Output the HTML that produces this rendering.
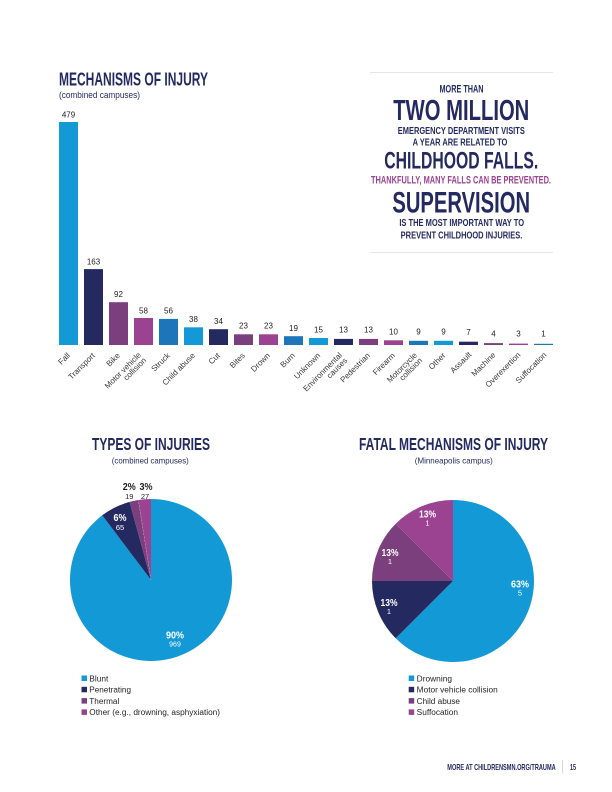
<!DOCTYPE html>
<html><head><meta charset="utf-8"><style>
html,body{margin:0;padding:0;background:#fff;}
svg{display:block;}
text{font-family:"Liberation Sans",sans-serif;}
.c{font-weight:bold;fill:#242A60;}
.lab{font-size:8px;fill:#3a3a3a;}
.val{font-size:8px;fill:#222;}
.leg{font-size:8px;fill:#231f20;}
</style></head><body>
<svg width="612" height="792" viewBox="0 0 612 792" xmlns="http://www.w3.org/2000/svg">
<rect width="612" height="792" fill="#fff"/>

<!-- Main title -->
<text class="c" x="59" y="85.7" font-size="18.3" textLength="149" lengthAdjust="spacingAndGlyphs">MECHANISMS OF INJURY</text>
<text x="59" y="98" font-size="9" fill="#242A60" textLength="81" lengthAdjust="spacingAndGlyphs">(combined campuses)</text>

<!-- Callout -->
<line x1="370" y1="72.5" x2="553" y2="72.5" stroke="#e6e6e6" stroke-width="1"/>
<line x1="370" y1="252.5" x2="553" y2="252.5" stroke="#e6e6e6" stroke-width="1"/>
<g text-anchor="middle">
<text class="c" x="461.5" y="92.7" font-size="10.6" textLength="44" lengthAdjust="spacingAndGlyphs">MORE THAN</text>
<text class="c" x="461.3" y="120" font-size="28.5" textLength="136" lengthAdjust="spacingAndGlyphs">TWO MILLION</text>
<text class="c" x="461.3" y="134" font-size="10.2" textLength="127" lengthAdjust="spacingAndGlyphs">EMERGENCY DEPARTMENT VISITS</text>
<text class="c" x="460" y="145.3" font-size="10.2" textLength="94.7" lengthAdjust="spacingAndGlyphs">A YEAR ARE RELATED TO</text>
<text class="c" x="461.3" y="168.3" font-size="24.3" textLength="154" lengthAdjust="spacingAndGlyphs">CHILDHOOD FALLS.</text>
<text x="461" y="183.3" font-size="10.6" font-weight="bold" fill="#9B4391" textLength="180" lengthAdjust="spacingAndGlyphs">THANKFULLY, MANY FALLS CAN BE PREVENTED.</text>
<text class="c" x="461.2" y="212.3" font-size="29.3" textLength="137.7" lengthAdjust="spacingAndGlyphs">SUPERVISION</text>
<text class="c" x="461.7" y="226" font-size="10.2" textLength="124.7" lengthAdjust="spacingAndGlyphs">IS THE MOST IMPORTANT WAY TO</text>
<text class="c" x="461.5" y="238.3" font-size="10.2" textLength="121.7" lengthAdjust="spacingAndGlyphs">PREVENT CHILDHOOD INJURIES.</text>
</g>

<!-- Bars -->
<g>
<rect x="59" y="122" width="19" height="223" fill="#1399D6"/>
<rect x="84" y="269.1" width="19" height="75.9" fill="#242A60"/>
<rect x="109" y="302.2" width="19" height="42.8" fill="#7B3F7E"/>
<rect x="134" y="318" width="19" height="27" fill="#9B4391"/>
<rect x="159" y="318.9" width="19" height="26.1" fill="#1C76B9"/>
<rect x="184" y="327.3" width="19" height="17.7" fill="#1399D6"/>
<rect x="209" y="329.2" width="19" height="15.8" fill="#242A60"/>
<rect x="234" y="334.3" width="19" height="10.7" fill="#7B3F7E"/>
<rect x="259" y="334.3" width="19" height="10.7" fill="#9B4391"/>
<rect x="284" y="336.2" width="19" height="8.8" fill="#1C76B9"/>
<rect x="309" y="338" width="19" height="7" fill="#1399D6"/>
<rect x="334" y="338.9" width="19" height="6.1" fill="#242A60"/>
<rect x="359" y="338.9" width="19" height="6.1" fill="#7B3F7E"/>
<rect x="384" y="340.3" width="19" height="4.7" fill="#9B4391"/>
<rect x="409" y="340.8" width="19" height="4.2" fill="#1C76B9"/>
<rect x="434" y="340.8" width="19" height="4.2" fill="#1399D6"/>
<rect x="459" y="341.7" width="19" height="3.3" fill="#242A60"/>
<rect x="484" y="343.1" width="19" height="1.9" fill="#7B3F7E"/>
<rect x="509" y="343.6" width="19" height="1.4" fill="#9B4391"/>
<rect x="534" y="343.8" width="19" height="1.2" fill="#1C76B9"/>
</g>

<!-- Value labels -->
<g class="val" text-anchor="middle">
<text x="68.5" y="117.7">479</text>
<text x="93.5" y="264.5">163</text>
<text x="118.5" y="296.8">92</text>
<text x="143.5" y="313.3">58</text>
<text x="168.5" y="313.3">56</text>
<text x="193.5" y="322.2">38</text>
<text x="218.5" y="324">34</text>
<text x="243.5" y="328.7">23</text>
<text x="268.5" y="328.7">23</text>
<text x="293.5" y="331">19</text>
<text x="318.5" y="332.7">15</text>
<text x="343.5" y="332.7">13</text>
<text x="368.5" y="332.7">13</text>
<text x="393.5" y="334.3">10</text>
<text x="418.5" y="334.3">9</text>
<text x="443.5" y="334.3">9</text>
<text x="468.5" y="335">7</text>
<text x="493.5" y="336.7">4</text>
<text x="518.5" y="336.7">3</text>
<text x="543.5" y="336.7">1</text>
</g>

<!-- X axis labels -->
<g class="lab" text-anchor="end">
<text transform="translate(70.5,356) rotate(-45)">Fall</text>
<text transform="translate(95.5,356) rotate(-45)">Transport</text>
<text transform="translate(120.5,356) rotate(-45)">Bike</text>
<text transform="translate(141.5,355.5) rotate(-45)">Motor vehicle</text>
<text transform="translate(146.8,360.8) rotate(-45)">collision</text>
<text transform="translate(170.5,356) rotate(-45)">Struck</text>
<text transform="translate(195.5,356) rotate(-45)">Child abuse</text>
<text transform="translate(220.5,356) rotate(-45)">Cut</text>
<text transform="translate(245.5,356) rotate(-45)">Bites</text>
<text transform="translate(270.5,356) rotate(-45)">Drown</text>
<text transform="translate(295.5,356) rotate(-45)">Burn</text>
<text transform="translate(320.8,356) rotate(-45)">Unknown</text>
<text transform="translate(342.5,355.7) rotate(-45)">Environmental</text>
<text transform="translate(347.8,361) rotate(-45)">causes</text>
<text transform="translate(370.5,356) rotate(-45)">Pedestrian</text>
<text transform="translate(395.5,356) rotate(-45)">Firearm</text>
<text transform="translate(417.5,355.7) rotate(-45)">Motorcycle</text>
<text transform="translate(422.8,361) rotate(-45)">collision</text>
<text transform="translate(446,356) rotate(-45)">Other</text>
<text transform="translate(472,355) rotate(-45)">Assault</text>
<text transform="translate(496,355.5) rotate(-45)">Machine</text>
<text transform="translate(521,355.5) rotate(-45)">Overexertion</text>
<text transform="translate(547,355.5) rotate(-45)">Suffocation</text>
</g>

<!-- Pie titles -->
<g text-anchor="middle">
<text class="c" x="151" y="450" font-size="17.5" textLength="118" lengthAdjust="spacingAndGlyphs">TYPES OF INJURIES</text>
<text x="150.3" y="463.3" font-size="8.5" fill="#242A60" textLength="77" lengthAdjust="spacingAndGlyphs">(combined campuses)</text>
<text class="c" x="453.5" y="450" font-size="17.5" textLength="189" lengthAdjust="spacingAndGlyphs">FATAL MECHANISMS OF INJURY</text>
<text x="453.8" y="463.3" font-size="8.5" fill="#242A60" textLength="78" lengthAdjust="spacingAndGlyphs">(Minneapolis campus)</text>
</g>

<!-- Pie 1 -->
<g>
<path d="M151,580 L151,499 A81,81 0 1 1 102.25,515.31 Z" fill="#1399D6"/>
<path d="M151,580 L102.25,515.31 A81,81 0 0 1 129.58,501.88 Z" fill="#242A60"/>
<path d="M151,580 L129.58,501.88 A81,81 0 0 1 138.33,500 Z" fill="#7B3F7E"/>
<path d="M151,580 L138.33,500 A81,81 0 0 1 151,499 Z" fill="#9B4391"/>
<line x1="151" y1="580" x2="138.33" y2="500" stroke="#c9a6c8" stroke-width="0.5" stroke-dasharray="2,1.5"/>
</g>
<g text-anchor="middle">
<text x="120" y="521" font-size="10.5" font-weight="bold" fill="#fff" textLength="13" lengthAdjust="spacingAndGlyphs">6%</text>
<text x="120" y="530" font-size="7.5" fill="#fff">65</text>
<text x="129.3" y="490" font-size="10.5" font-weight="bold" fill="#231f20" textLength="13" lengthAdjust="spacingAndGlyphs">2%</text>
<text x="129.3" y="499" font-size="7.5" fill="#231f20">19</text>
<text x="146" y="490" font-size="10.5" font-weight="bold" fill="#231f20" textLength="13" lengthAdjust="spacingAndGlyphs">3%</text>
<text x="145" y="499" font-size="7.5" fill="#231f20">27</text>
<text x="175" y="638.3" font-size="10.5" font-weight="bold" fill="#fff" textLength="18" lengthAdjust="spacingAndGlyphs">90%</text>
<text x="175" y="646.5" font-size="7" fill="#fff">969</text>
</g>

<!-- Pie 2 -->
<g>
<path d="M453,581 L453,500 A81,81 0 1 1 395.72,638.28 Z" fill="#1399D6"/>
<path d="M453,581 L395.72,638.28 A81,81 0 0 1 372,581 Z" fill="#242A60"/>
<path d="M453,581 L372,581 A81,81 0 0 1 395.72,523.72 Z" fill="#7B3F7E"/>
<path d="M453,581 L395.72,523.72 A81,81 0 0 1 453,500 Z" fill="#9B4391"/>
</g>
<g text-anchor="middle" fill="#fff">
<text x="520" y="587.3" font-size="10.5" font-weight="bold" fill="#fff" textLength="18" lengthAdjust="spacingAndGlyphs">63%</text>
<text x="520" y="595.7" font-size="7.5" fill="#fff">5</text>
<text x="389" y="606" font-size="10.5" font-weight="bold" fill="#fff" textLength="17" lengthAdjust="spacingAndGlyphs">13%</text>
<text x="389" y="614" font-size="7.5" fill="#fff">1</text>
<text x="390" y="556" font-size="10.5" font-weight="bold" fill="#fff" textLength="17" lengthAdjust="spacingAndGlyphs">13%</text>
<text x="390" y="564" font-size="7.5" fill="#fff">1</text>
<text x="427.5" y="517.7" font-size="10.5" font-weight="bold" fill="#fff" textLength="17" lengthAdjust="spacingAndGlyphs">13%</text>
<text x="427.5" y="525.7" font-size="7.5" fill="#fff">1</text>
</g>

<!-- Legend 1 -->
<g>
<rect x="81.5" y="675.5" width="5.5" height="5.5" fill="#1399D6"/>
<rect x="81.5" y="686.8" width="5.5" height="5.5" fill="#242A60"/>
<rect x="81.5" y="698.1" width="5.5" height="5.5" fill="#7B3F7E"/>
<rect x="81.5" y="709.4" width="5.5" height="5.5" fill="#9B4391"/>
<text class="leg" x="89.3" y="681.3" textLength="19" lengthAdjust="spacingAndGlyphs">Blunt</text>
<text class="leg" x="89.3" y="692.6" textLength="41.7" lengthAdjust="spacingAndGlyphs">Penetrating</text>
<text class="leg" x="89.3" y="703.9" textLength="30" lengthAdjust="spacingAndGlyphs">Thermal</text>
<text class="leg" x="89.3" y="715.2" textLength="130.7" lengthAdjust="spacingAndGlyphs">Other (e.g., drowning, asphyxiation)</text>
</g>

<!-- Legend 2 -->
<g>
<rect x="408.7" y="675.5" width="5.5" height="5.5" fill="#1399D6"/>
<rect x="408.7" y="686.8" width="5.5" height="5.5" fill="#242A60"/>
<rect x="408.7" y="698.1" width="5.5" height="5.5" fill="#7B3F7E"/>
<rect x="408.7" y="709.4" width="5.5" height="5.5" fill="#9B4391"/>
<text class="leg" x="416.7" y="681.3" textLength="35.3" lengthAdjust="spacingAndGlyphs">Drowning</text>
<text class="leg" x="416.7" y="692.6" textLength="81" lengthAdjust="spacingAndGlyphs">Motor vehicle collision</text>
<text class="leg" x="416.7" y="703.9" textLength="43.3" lengthAdjust="spacingAndGlyphs">Child abuse</text>
<text class="leg" x="416.7" y="715.2" textLength="41.3" lengthAdjust="spacingAndGlyphs">Suffocation</text>
</g>

<!-- Footer -->
<text class="c" x="447.3" y="770" font-size="8.2" textLength="108.4" lengthAdjust="spacingAndGlyphs">MORE AT CHILDRENSMN.ORG/TRAUMA</text>
<line x1="562.5" y1="760" x2="562.5" y2="773.5" stroke="#cfcfcf" stroke-width="0.8"/>
<text class="c" x="570" y="770" font-size="8.2" textLength="6" lengthAdjust="spacingAndGlyphs">15</text>
</svg>
</body></html>
